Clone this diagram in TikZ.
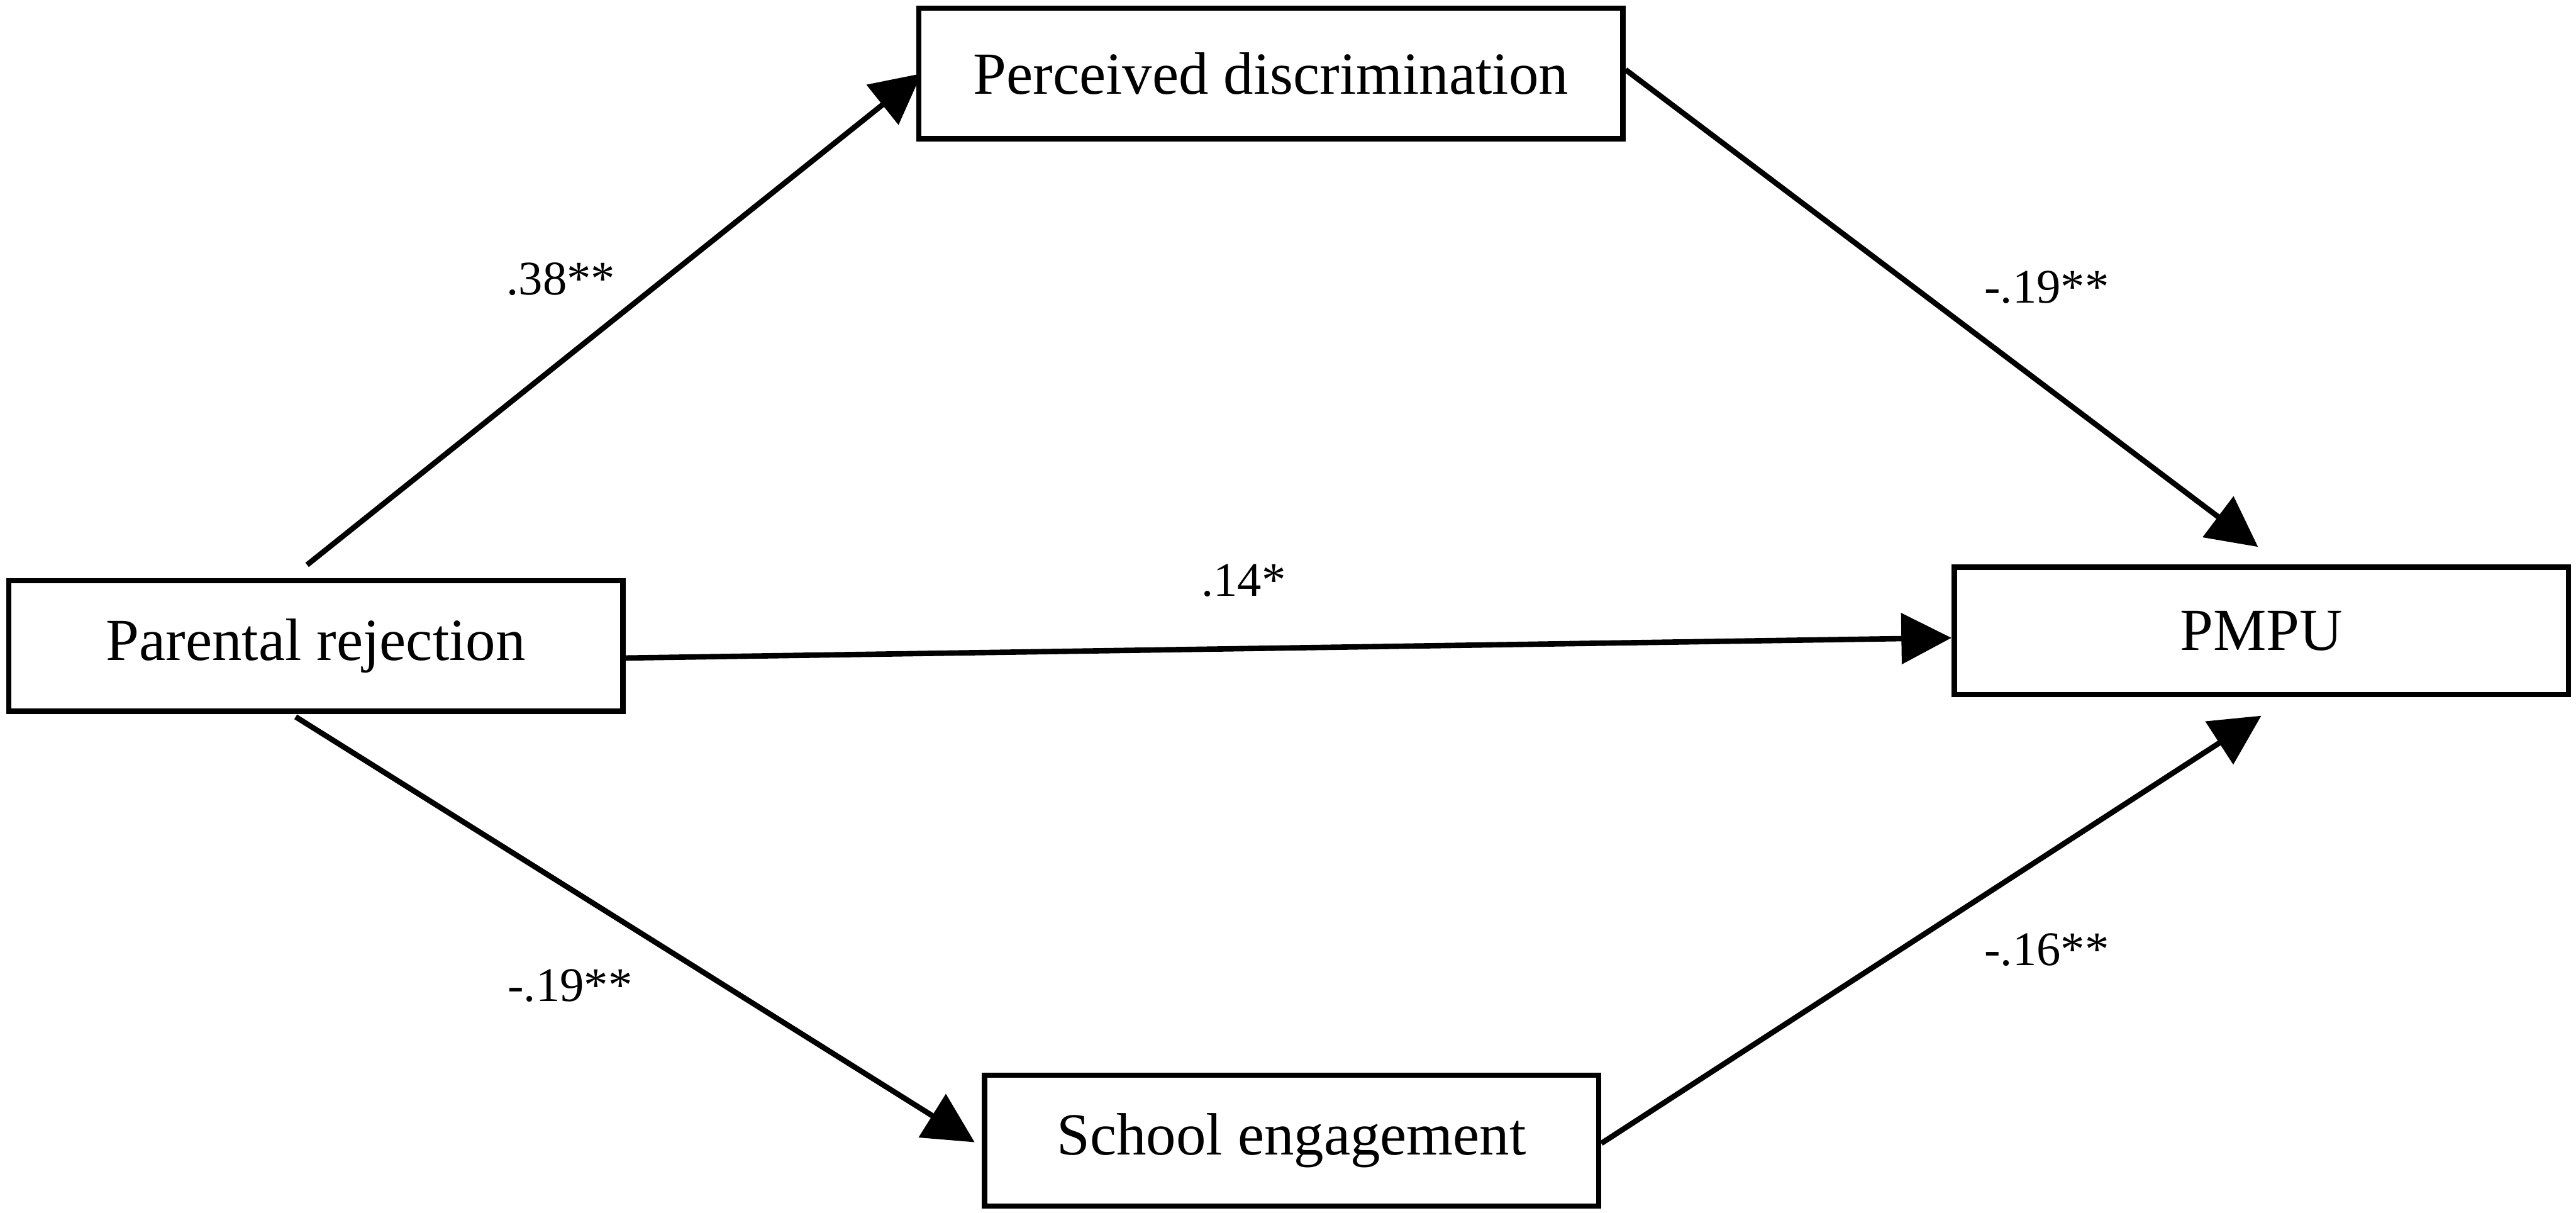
\documentclass[tikz,border=0pt]{standalone}
\usepackage{fontspec}
\setmainfont{Liberation Serif}
\usetikzlibrary{arrows.meta,positioning}

\begin{document}
\begin{tikzpicture}[
  line width=1.42pt,
  varbox/.style={draw,rectangle,minimum width=5.64cm,minimum height=1.2cm,
                 inner sep=0pt,font=\fontsize{15.6}{18}\selectfont},
  effect/.style={-{Triangle[length=0.46cm,width=0.46cm]}},
  coef/.style={font=\fontsize{12.6}{15}\selectfont},
]
  \useasboundingbox (0,0) rectangle (23.655,11.13);

  % Variables
  \node[varbox] (rej) at (2.90,5.20) {Parental rejection};
  \node[varbox,minimum width=6.465cm] (disc) at (11.67,10.455) {Perceived discrimination};
  \node[varbox,minimum height=1.17cm] (pmpu) at (20.765,5.34) {PMPU};
  \node[varbox] (eng) at (11.86,0.66) {School engagement};

  % Paths
  \draw[effect] ([xshift=-0.8mm,yshift=1.2mm]rej.north) -- ([xshift=0.5mm]disc.west);
  \draw[effect] ([yshift=0.35mm]disc.east) -- ([xshift=-0.3mm,yshift=1.6mm]pmpu.north);
  \draw[effect] ([yshift=-1.1mm]rej.east) -- ([yshift=-0.65mm]pmpu.west);
  \draw[effect] ([xshift=-1.85mm,yshift=-0.25mm]rej.south) -- ([xshift=-0.65mm,yshift=-0.15mm]eng.west);
  \draw[effect] ([yshift=-0.25mm]eng.east) -- ([yshift=-1.7mm]pmpu.south);

  % Coefficients
  \node[coef] (c1) at (5.15,8.57) {.38**};
  \node[coef] (c2) at (18.795,8.49) {-.19**};
  \node[coef] (c3) at (11.42,5.80) {.14*};
  \node[coef] (c4) at (5.235,2.08) {-.19**};
  \node[coef] (c5) at (18.795,2.41) {-.16**};
\end{tikzpicture}
\end{document}
